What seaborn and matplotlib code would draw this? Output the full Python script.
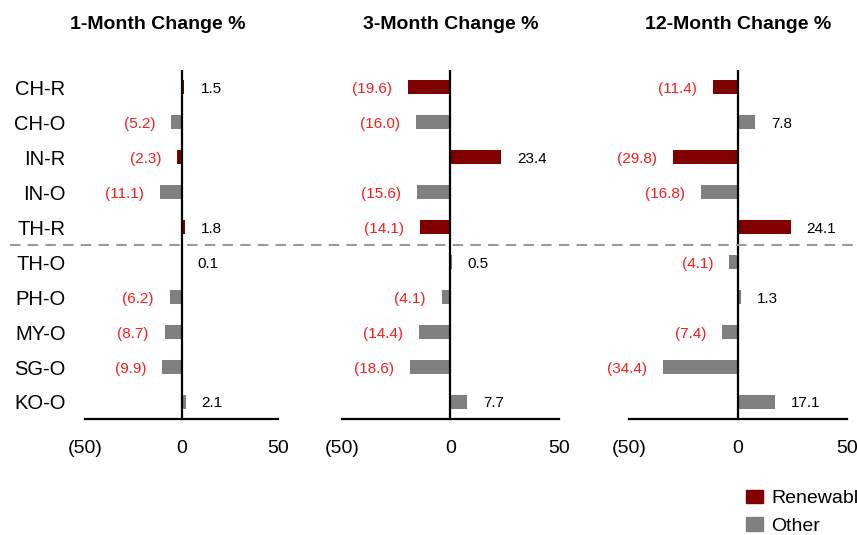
import numpy as np
import pandas as pd
import matplotlib
matplotlib.use('Agg')
import matplotlib.pyplot as plt
import matplotlib.transforms as mtransforms
from matplotlib.patches import Patch
from matplotlib.ticker import FuncFormatter
import seaborn as sns

CATEGORIES = ["CH-R", "CH-O", "IN-R", "IN-O", "TH-R", "TH-O", "PH-O", "MY-O", "SG-O", "KO-O"]
GROUPS = ["Renewable", "Other", "Renewable", "Other", "Renewable",
          "Other", "Other", "Other", "Other", "Other"]
CHG_1M = [1.5, -5.2, -2.3, -11.1, 1.8, 0.1, -6.2, -8.7, -9.9, 2.1]
CHG_3M = [-19.6, -16.0, 23.4, -15.6, -14.1, 0.5, -4.1, -14.4, -18.6, 7.7]
CHG_12M = [-11.4, 7.8, -29.8, -16.8, 24.1, -4.1, 1.3, -7.4, -34.4, 17.1]
TITLES = ["1-Month Change %", "3-Month Change %", "12-Month Change %"]
XTICKS = [-50, 0, 50]

RED = "#800000"
GREY = "#808080"
PALETTE = {"Renewable": RED, "Other": GREY}

sns.set_style("white")
plt.rcParams['font.family'] = ['Liberation Sans', 'DejaVu Sans']
plt.rcParams['text.color'] = 'black'

fig = plt.figure(figsize=(8.57, 5.35), dpi=100)

# axes boxes in figure fraction (left, bottom, width, height)
boxes = [(0.0992, 0.2159, 0.2252, 0.654),
         (0.3990, 0.2159, 0.2532, 0.654),
         (0.7340, 0.2159, 0.2544, 0.654)]
title_x = [0.378, 0.5, 0.5]

fmt = lambda v, pos=None: f"({abs(v):.0f})" if v < 0 else f"{v:.0f}"

axes = []
for i, (vals, title) in enumerate(zip([CHG_1M, CHG_3M, CHG_12M], TITLES)):
    ax = fig.add_axes(boxes[i])
    df = pd.DataFrame({"cat": CATEGORIES, "val": vals, "grp": GROUPS})
    sns.barplot(data=df, x="val", y="cat", hue="grp", order=CATEGORIES,
                palette=PALETTE, saturation=1, dodge=False, width=0.4,
                legend=False, linewidth=0, ax=ax)
    ax.set_xlim(-50, 50)
    ax.set_ylim(len(CATEGORIES) - 0.5, -0.5)
    ax.axvline(0, color="black", lw=1.6, zorder=3)
    for s in ["top", "right", "left"]:
        ax.spines[s].set_visible(False)
    ax.spines["bottom"].set_color("black")
    ax.spines["bottom"].set_linewidth(1.6)
    ax.set_xticks(XTICKS)
    ax.xaxis.set_major_formatter(FuncFormatter(fmt))
    ax.tick_params(axis="x", length=0, pad=15, labelsize=14, labelcolor="black")
    ax.tick_params(axis="y", length=0, pad=14, labelsize=14.5, labelcolor="black")
    if i > 0:
        ax.set_yticklabels([])
    ax.set_xlabel("")
    ax.set_ylabel("")
    ax.set_title(title, fontsize=14, fontweight="bold", color="black",
                 x=title_x[i], y=1.0, pad=29)

    for j, v in enumerate(vals):
        if v < 0:
            ax.annotate(f"({abs(v):.1f})", (v, j), xytext=(-11.5, 0),
                        textcoords="offset points", ha="right",
                        va="center_baseline", fontsize=11, color="#ff1a1a")
        else:
            ax.annotate(f"{v:.1f}", (v, j), xytext=(11.5, 0),
                        textcoords="offset points", ha="left",
                        va="center_baseline", fontsize=11, color="black")
    axes.append(ax)

# dashed separator between TH-R and TH-O across all panels
trans = mtransforms.blended_transform_factory(fig.transFigure, axes[0].transData)
fig.add_artist(plt.Line2D([0.012, 1.0], [4.5, 4.5], transform=trans,
                          color="#999999", lw=1.5, linestyle=(0, (5, 3.5))))

handles = [Patch(color=RED, label="Renewable"), Patch(color=GREY, label="Other")]
fig.legend(handles=handles, loc="upper left", bbox_to_anchor=(0.870, 0.085),
           frameon=False, fontsize=14, handlelength=0.88, handleheight=0.72,
           handletextpad=0.45, labelspacing=0.5, borderaxespad=0, borderpad=0)

fig.savefig("out.png", dpi=100)
